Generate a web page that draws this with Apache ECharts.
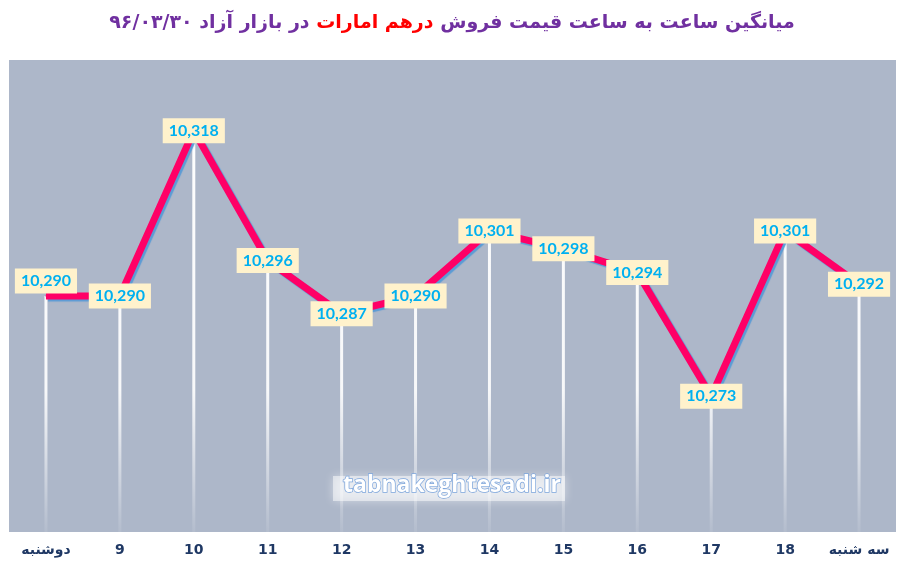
<!DOCTYPE html>
<html>
<head>
<meta charset="utf-8">
<script src="https://cdn.jsdelivr.net/npm/echarts@6/dist/echarts.min.js"></script>
<style>
html,body{margin:0;padding:0;background:#fff;}
#main{width:904px;height:564px;}
</style>
</head>
<body>
<div id="main"></div>
<script>
const categories = ['دوشنبه','9','10','11','12','13','14','15','16','17','18','سه شنبه'];
const prices = [10290,10290,10318,10296,10287,10290,10301,10298,10294,10273,10301,10292];
const axisMin = 10250;
const axisMax = 10330;
const titleStart = 'میانگین ساعت به ساعت قیمت فروش';
const titleRed = 'درهم امارات';
const titleEnd = 'در بازار آزاد ۹۶/۰۳/۳۰';
const watermark = 'tabnakeghtesadi.ir';

const chart = echarts.init(document.getElementById('main'), null, {renderer:'canvas'});
const fmt = v => v.toLocaleString('en-US');

const lineData = prices.map((v, i) => i === 0 ? {value: v, label: {offset: [0, -15]}} : v);

const option = {
  backgroundColor: '#ffffff',
  animation: false,
  title: {
    left: 'center',
    top: 9,
    text: '{p|' + titleEnd + '}{r| ' + titleRed + ' }{p|' + titleStart + '}',
    textStyle: {
      rich: {
        p: {color:'#7030A0', fontSize:19, fontWeight:'bold', fontFamily:'DejaVu Sans'},
        r: {color:'#FF0000', fontSize:19, fontWeight:'bold', fontFamily:'DejaVu Sans'}
      }
    }
  },
  grid: {
    left: 9, right: 8, top: 60, bottom: 32,
    show: true, backgroundColor: '#ADB7C9', borderWidth: 0
  },
  xAxis: {
    type: 'category',
    data: categories,
    boundaryGap: true,
    axisLine: {show:false},
    axisTick: {show:false},
    axisLabel: {
      color:'#1F3864', fontSize:14, fontWeight:'bold', margin:11,
      fontFamily:'DejaVu Sans', interval:0
    }
  },
  yAxis: {
    type: 'value', min: axisMin, max: axisMax,
    show: false, splitLine: {show:false}
  },
  graphic: [
    {
      type: 'rect', left: 333, top: 476, z: 5,
      shape: {width: 232, height: 25},
      style: {fill:'rgba(255,255,255,0.5)', shadowBlur: 10, shadowColor:'rgba(255,255,255,0.9)'}
    },
    {
      type: 'text', left: 'center', top: 473, z: 6,
      style: {
        text: watermark, fill:'#ffffff', stroke:'#7EA6DC', lineWidth:1.5,
        fontSize: 23, fontFamily:'Open Sans', fontWeight:'bold'
      }
    }
  ],
  series: [
    {
      type: 'custom',
      z: 1,
      silent: true,
      data: prices.map((v, i) => [i, v]),
      renderItem: function (params, api) {
        const top = api.coord([api.value(0), api.value(1)]);
        const bot = api.coord([api.value(0), axisMin]);
        return {
          type: 'line',
          shape: {x1: top[0], y1: top[1], x2: bot[0], y2: bot[1]},
          style: {
            lineWidth: 3,
            stroke: new echarts.graphic.LinearGradient(0, 60, 0, 532, [
              {offset: 0, color: 'rgba(255,255,255,1)'},
              {offset: 0.7, color: 'rgba(255,255,255,0.9)'},
              {offset: 1, color: 'rgba(255,255,255,0.08)'}
            ], true)
          }
        };
      }
    },
    {
      type: 'line',
      z: 3,
      data: lineData,
      symbol: 'circle',
      symbolSize: 1,
      showSymbol: true,
      itemStyle: {color:'#FF0066'},
      lineStyle: {
        color:'#FF0066', width:7,
        shadowColor:'#5B9BD5', shadowBlur:1, shadowOffsetX:2, shadowOffsetY:2
      },
      label: {
        show: true,
        position: 'inside',
        formatter: p => fmt(p.value),
        color:'#00B0F0', fontSize:16, fontWeight:'bold', fontFamily:'Lato',
        backgroundColor:'#FFF2CC', padding:[5,6,4,6]
      }
    }
  ]
};
chart.setOption(option);
</script>
</body>
</html>
